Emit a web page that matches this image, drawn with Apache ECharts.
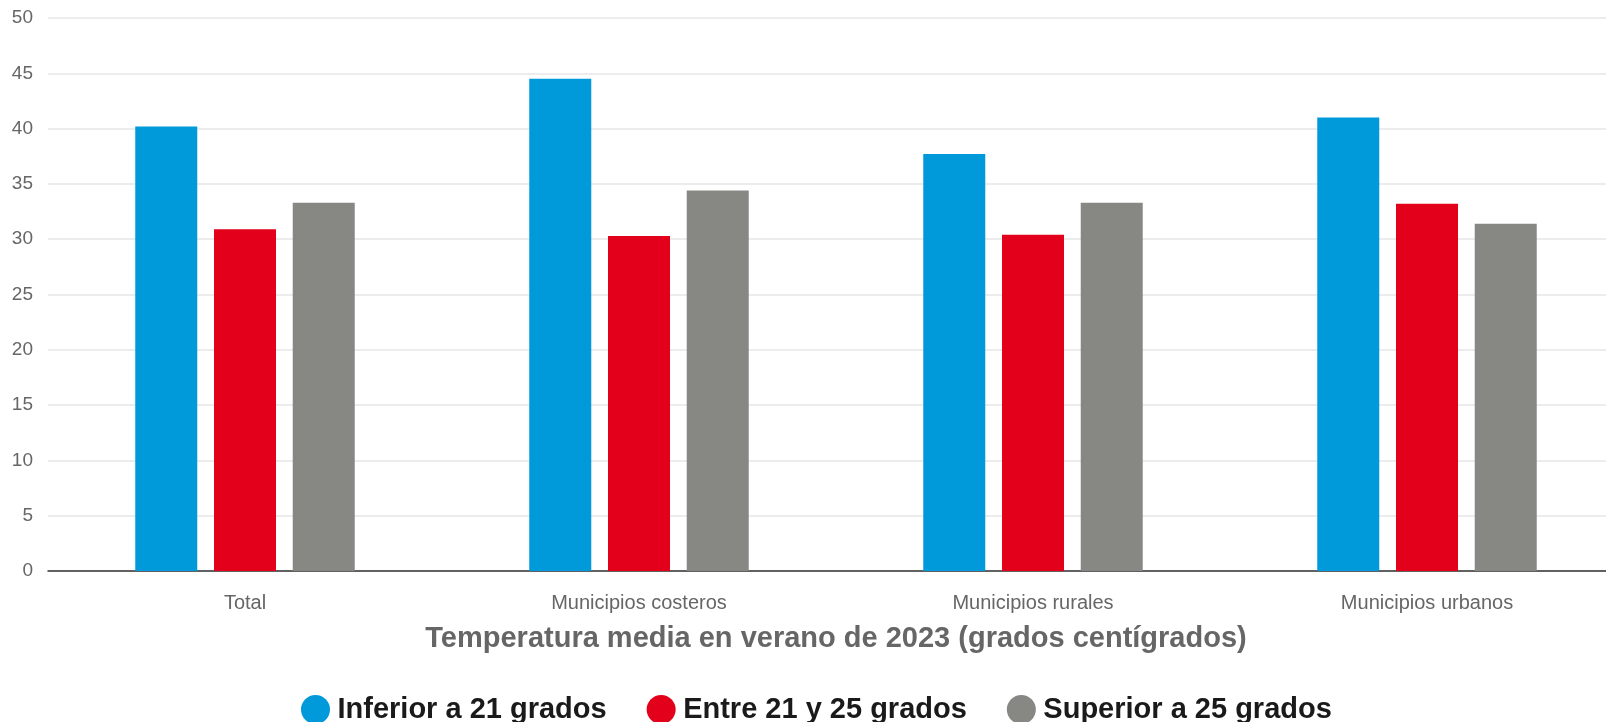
<!DOCTYPE html>
<html>
<head>
<meta charset="utf-8">
<script src="https://cdn.jsdelivr.net/npm/echarts@6/dist/echarts.min.js"></script>
<style>
html,body{margin:0;padding:0;background:#fff;}
#chart{width:1606px;height:722px;}
</style>
</head>
<body>
<div id="chart"></div>
<script>
const categories = ['Total', 'Municipios costeros', 'Municipios rurales', 'Municipios urbanos'];
const seriesNames = ['Inferior a 21 grados', 'Entre 21 y 25 grados', 'Superior a 25 grados'];
const inferior21 = [40.2, 44.5, 37.7, 41.0];
const entre21y25 = [30.9, 30.3, 30.4, 33.2];
const superior25 = [33.3, 34.4, 33.3, 31.4];
const axisTitle = 'Temperatura media en verano de 2023 (grados centígrados)';
const colors = ['#0099D9', '#E2001A', '#878784'];

const chart = echarts.init(document.getElementById('chart'), null, {renderer: 'canvas'});
const values = [inferior21, entre21y25, superior25];
chart.setOption({
  animation: false,
  textStyle: {fontFamily: '"Liberation Sans", Arial, sans-serif'},
  grid: {left: 48, top: 18, width: 1576, bottom: 151, containLabel: false, outerBoundsMode: 'none'},
  legend: {
    left: 296, top: 690,
    icon: 'circle', itemWidth: 34, itemHeight: 29, itemGap: 40,
    textStyle: {fontSize: 29, fontWeight: 'bold', color: '#1a1a1a', fontFamily: '"Liberation Sans", Arial, sans-serif'},
    data: seriesNames
  },
  xAxis: {
    type: 'category',
    data: categories,
    name: axisTitle,
    nameLocation: 'middle',
    nameGap: 53,
    nameTextStyle: {fontSize: 29, fontWeight: 'bold', color: '#666666'},
    axisLine: {lineStyle: {color: '#333333', width: 1.5}},
    axisTick: {show: false},
    axisLabel: {fontSize: 20, color: '#666666', margin: 22}
  },
  yAxis: {
    type: 'value', min: 0, max: 50, interval: 5,
    axisLine: {show: false}, axisTick: {show: false},
    axisLabel: {fontSize: 19, color: '#666666', margin: 15},
    splitLine: {lineStyle: {color: '#e6e6e6', width: 1.5}}
  },
  series: seriesNames.map((n, i) => ({
    name: n, type: 'bar', data: values[i],
    barWidth: 62, barGap: '27%',
    itemStyle: {color: colors[i]}
  }))
});
</script>
</body>
</html>
